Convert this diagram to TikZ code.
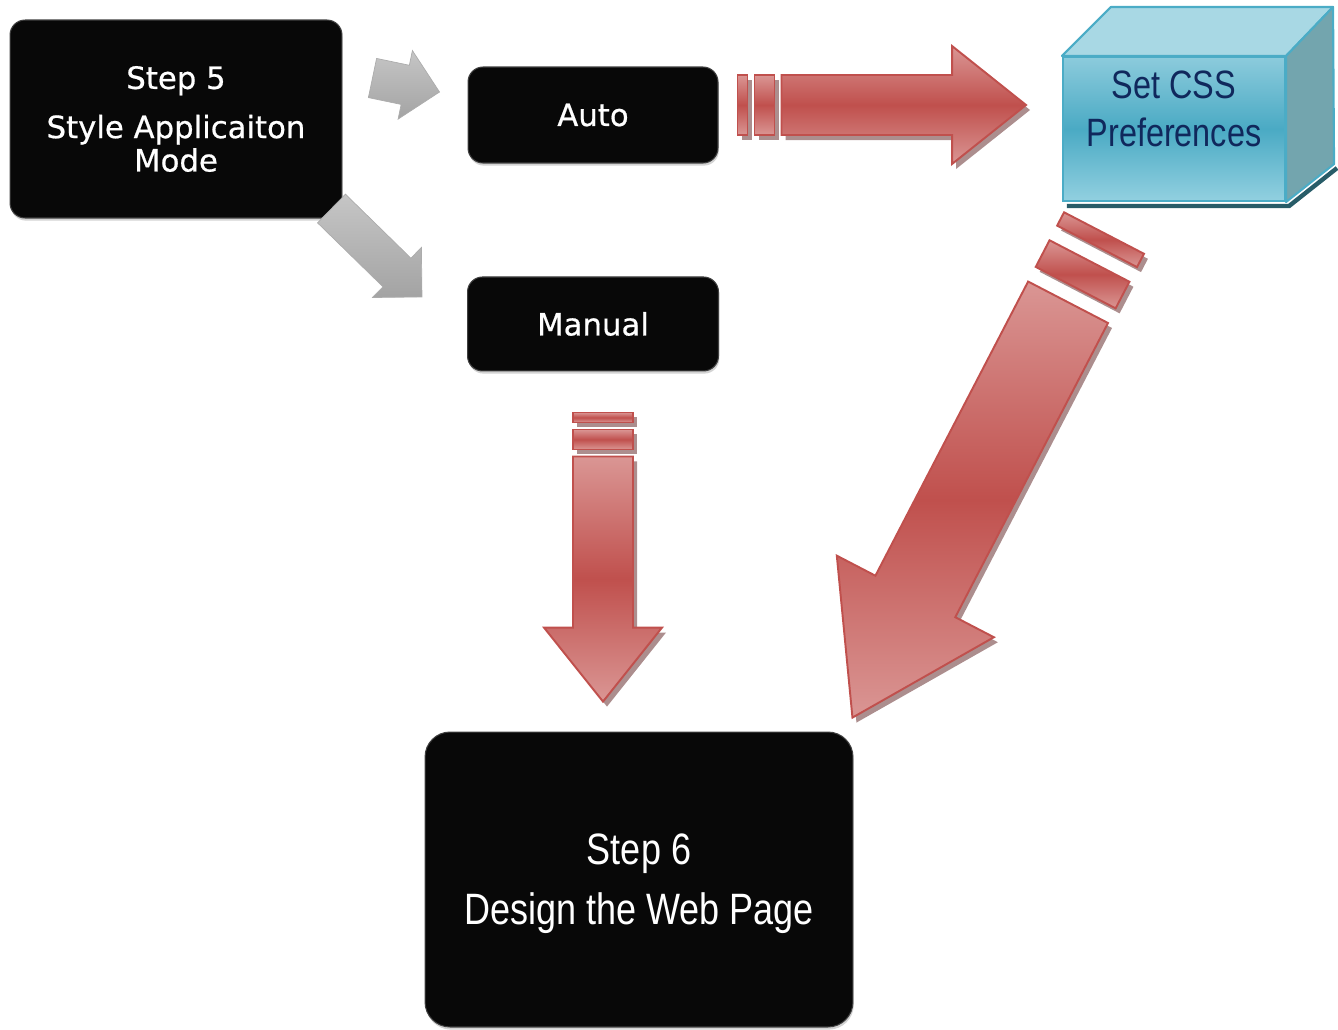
\documentclass[tikz,border=0pt]{standalone}
\usepackage{fontspec}
\usetikzlibrary{calc,shadows}
\newfontfamily\boxfont[FakeBold=0.6]{DejaVu Sans}
\newfontfamily\narrowfont[FakeStretch=0.82]{Liberation Sans}

\definecolor{reddark}{RGB}{192,80,77}
\definecolor{redlight}{RGB}{218,150,148}
\definecolor{redshade}{RGB}{172,142,142}
\definecolor{cubeedge}{RGB}{75,172,198}
\definecolor{cubetop}{RGB}{168,216,228}
\definecolor{cubeside}{RGB}{115,165,174}
\definecolor{cubehi}{RGB}{140,203,220}
\definecolor{cubemid}{RGB}{74,170,196}
\definecolor{cubelow}{RGB}{146,208,224}
\definecolor{cubedark}{RGB}{40,92,104}
\definecolor{cubetext}{RGB}{16,40,92}

\tikzset{
  blackbox/.style={draw=black!75, line width=0.6pt, fill=black!97, rounded corners=0.3cm,
    text=white, align=center,
    drop shadow={shadow xshift=0.5pt, shadow yshift=-1.5pt, opacity=0.35}},
  boxtext/.style={font=\boxfont\fontsize{17.5}{19}\selectfont},
  redblock/.style={draw=reddark, line width=1.1pt, top color=redlight, bottom color=redlight, middle color=reddark},
  redshadow/.style={fill=redshade},
  grayblock/.style={draw=gray!65, line width=0.4pt, top color=gray!45, bottom color=gray!72},
  cubefront/.style={draw=cubeedge, line width=1.2pt, top color=cubehi, bottom color=cubelow, middle color=cubemid,
    text=cubetext, align=center, font=\narrowfont\fontsize{22.5}{27.3}\selectfont},
  cubeface/.style={draw=cubeedge, line width=1.2pt, line join=round}
}

% angle and length of an arrow between two points
\newcommand{\arrowgeom}[3]{%
  \path let \p1=($(#2)-(#1)$) in \pgfextra{%
    \pgfmathparse{atan2(\y1,\x1)}\xdef\arrang{\pgfmathresult}%
    \pgfmathparse{veclen(\x1,\y1)/(0.569055*#3)}\xdef\arrlen{\pgfmathresult}};
}
% striped block arrow, tail at origin, pointing along x
\newcommand{\stripeshape}[4]{%
  \path[#1] (0,-30) rectangle (10,30);
  \path[#1] (10+#4,-30) rectangle (30+#4,30);
  \path[#1] (30+2*#4,-30) -- (#2-#3,-30) -- (#2-#3,-59) -- (#2,0)
    -- (#2-#3,59) -- (#2-#3,30) -- (30+2*#4,30) -- cycle;
}
% tail, tip, scale, head length, gap
\newcommand{\redarrow}[5]{%
  \arrowgeom{#1}{#2}{#3}
  \begin{scope}[shift={($(#1)+(4,5)$)}, rotate=\arrang, scale=#3]
    \stripeshape{redshadow}{\arrlen}{#4}{#5}
  \end{scope}
  \begin{scope}[shift={(#1)}, rotate=\arrang, scale=#3]
    \stripeshape{redblock}{\arrlen}{#4}{#5}
  \end{scope}
}
% tail, tip
\newcommand{\grayarrow}[2]{%
  \arrowgeom{#1}{#2}{1}
  \path[grayblock, shift={(#1)}, rotate=\arrang] (0,-20) -- (\arrlen-35,-20) -- (\arrlen-35,-35)
    -- (\arrlen,0) -- (\arrlen-35,35) -- (\arrlen-35,20) -- (0,20) -- cycle;
}

\begin{document}
\begin{tikzpicture}[x=0.02cm, y=-0.02cm]
    \useasboundingbox (0,0) rectangle (1338,1029);

    % Cajas negras
    \node (step5) [blackbox, boxtext, minimum width=6.64cm, minimum height=3.96cm] at (176,119)
    {Step 5\\[9pt]Style Applicaiton\\Mode};

    \node (auto) [blackbox, boxtext, minimum width=5cm, minimum height=1.92cm] at (593,115) {Auto};

    \node (manual) [below of=auto, node distance=4.18cm, blackbox, boxtext, minimum width=5.02cm, minimum height=1.88cm] {Manual};

    \node (step6) [blackbox, rounded corners=0.5cm, minimum width=8.56cm, minimum height=5.9cm, text depth=0pt,
      font=\narrowfont\fontsize{25}{34}\selectfont] at (639,879.5)
    {Step 6\\Design the Web Page};

    % Cubo
    \node (css) [cubefront, minimum width=4.44cm, minimum height=2.88cm, text depth=23.5pt] at (1174,129)
    {Set CSS\\Preferences};
    \draw[cubedark, line width=2.5pt] ($(css.south west)+(5,4)$) -- ($(css.south east)+(3,4)$) -- ($(css.south east)+(51,-34)$);
    \path[cubeface, fill=cubetop] (css.north west) -- ($(css.north west)+(49,-49)$) -- ($(css.north east)+(47,-49)$) -- (css.north east) -- cycle;
    \path[cubeface, fill=cubeside] (css.north east) -- ($(css.north east)+(47,-49)$) -- ($(css.south east)+(48,-38)$) -- (css.south east) -- cycle;

    % Extremos de las flechas
    \coordinate (g1a) at ($(step5.east)+(30,-41)$);
    \coordinate (g1b) at ($(auto.west)+(-28,-23)$);
    \coordinate (g2a) at ($(step5.south east)+(-11,-10)$);
    \coordinate (g2b) at ($(manual.west)+(-45,-27)$);
    \coordinate (r1a) at ($(auto.east)+(19,-10)$);
    \coordinate (r1b) at ($(css.west)+(-36,-24)$);
    \coordinate (r2a) at ($(manual.south)+(10,41)$);
    \coordinate (r2b) at ($(step6.north)+(-36,-30)$);
    \coordinate (r3a) at ($(css.south)+(-70,31)$);
    \coordinate (r3b) at ($(step6.north east)+(-1,-14)$);

    % Flechas
    \grayarrow{g1a}{g1b}
    \grayarrow{g2a}{g2b}
    \redarrow{r1a}{r1b}{1}{74}{7}
    \redarrow{r2a}{r2b}{1}{74}{7}
    \redarrow{r3a}{r3b}{1.5}{91}{11}
\end{tikzpicture}
\end{document}
